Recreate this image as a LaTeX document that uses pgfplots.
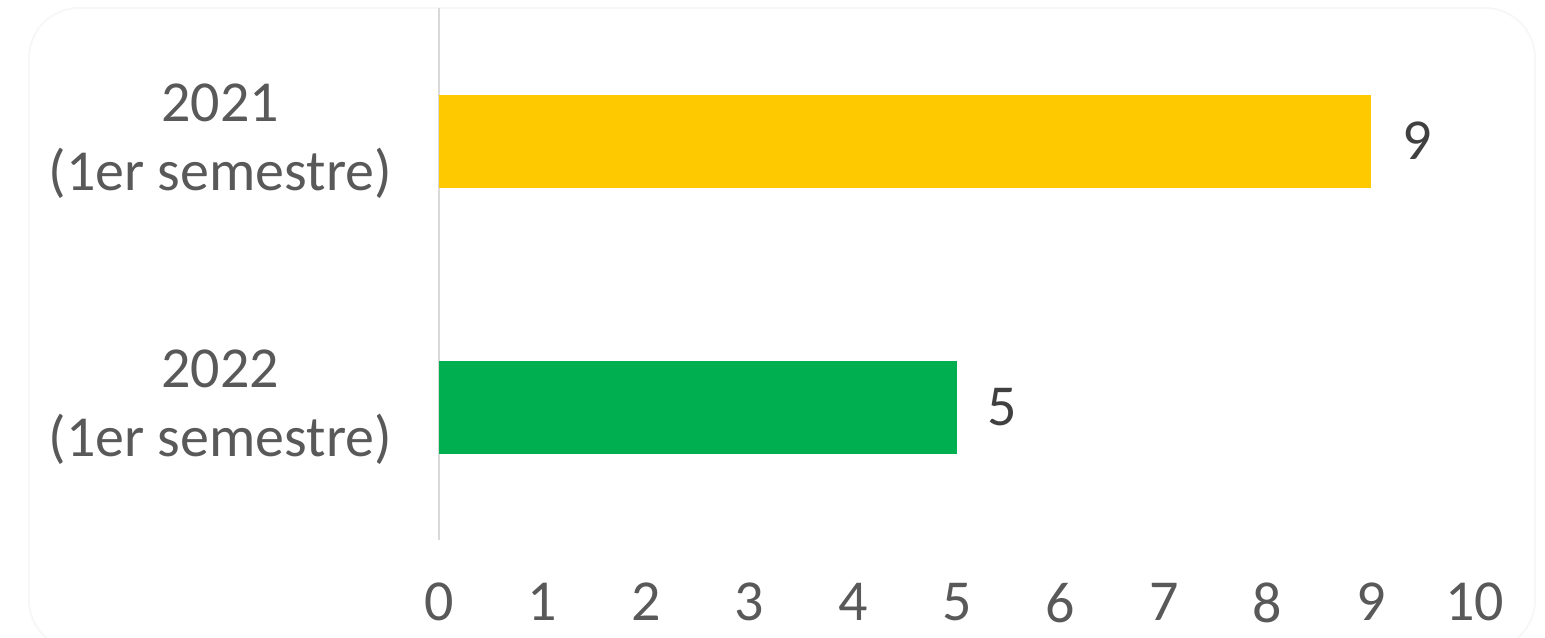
\documentclass[border=0pt]{standalone}
\usepackage{pgfplots}
\pgfplotsset{compat=1.18}
\usepackage{fontspec}
\setmainfont{Carlito}
\definecolor{barY}{HTML}{FFC900}
\definecolor{barG}{HTML}{00B050}
\definecolor{axisG}{HTML}{D9D9D9}
\definecolor{lblG}{HTML}{595959}
\definecolor{valG}{HTML}{404040}
\begin{document}
\begin{tikzpicture}[x=0.5pt,y=0.5pt]
% canvas: 1545 x 637 px, origin at axis lower-left (439px, 540px from top)
\path[use as bounding box] (-439,-97) rectangle (1106,540);
\draw[black!3, line width=1pt, rounded corners=25pt] (-410,-110) rectangle (1096,532);
\begin{axis}[
  at={(0,0)}, anchor=south west,
  scale only axis,
  width=517.8pt, height=266pt,
  xbar, bar width=46.5pt, bar shift=0pt,
  xmin=0, xmax=10, ymin=-0.5, ymax=1.5,
  xtick={0,...,10},
  ytick={0,1},
  yticklabels={{2022\\(1er semestre)},{2021\\(1er semestre)}},
  axis x line*=bottom,
  axis y line*=left,
  y axis line style={draw=axisG, line width=1pt},
  x axis line style={draw=none},
  major tick length=0pt,
  tick style={draw=none},
  font=\fontsize{29}{34.5}\selectfont,
  /pgf/number format/assume math mode=true,
  xticklabel style={text=lblG, yshift=-18pt, font=\fontsize{29}{34.5}\selectfont},
  yticklabel style={text=lblG, align=center, xshift=-20pt, font=\fontsize{29}{34.5}\selectfont},
  nodes near coords,
  nodes near coords style={text=valG, anchor=west, xshift=12pt, font=\fontsize{29}{34.5}\selectfont},
  clip=false,
]
\addplot[fill=barY, draw=none] coordinates {(9,1)};
\addplot[fill=barG, draw=none] coordinates {(5,0)};
\end{axis}
\end{tikzpicture}
\end{document}
